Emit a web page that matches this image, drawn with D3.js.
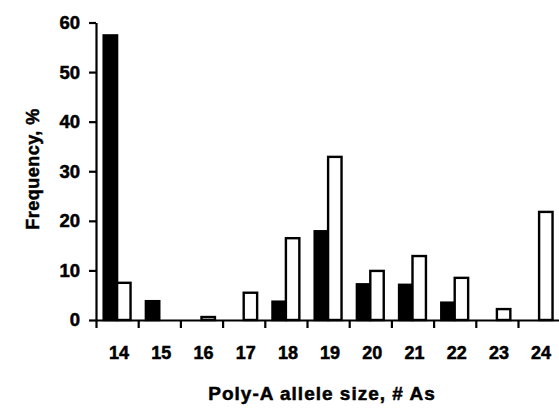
<!DOCTYPE html>
<html><head><meta charset="utf-8">
<script src="https://cdn.jsdelivr.net/npm/d3@7"></script>
<style>
html,body{margin:0;padding:0;background:#fff;}
svg text{font-family:"Liberation Sans",Arial,sans-serif;font-weight:bold;fill:#000;stroke:#000;stroke-width:0.5px;}
</style></head>
<body>
<svg id="c" width="559" height="409"></svg>
<script>
const categories = ["14","15","16","17","18","19","20","21","22","23","24"];
const seriesBlack = [57.4, 3.8, 0, 0, 3.7, 17.9, 7.2, 7.1, 3.5, 0, 0];
const seriesWhite = [7.5, 0, 0.6, 5.5, 16.5, 32.9, 9.9, 12.9, 8.5, 2.2, 21.8];
const yTicks = [0, 10, 20, 30, 40, 50, 60];
const xTitle = "Poly-A allele size, # As";
const yTitle = "Frequency, %";

(function(){
const svg = d3.select("#c");
const mLeft = 96, mRight = 560.2, mTop = 22.5, mBottom = 320;

const x0 = d3.scaleBand().domain(categories).range([mLeft, mRight]).padding(0);
const x1 = d3.scaleBand().domain(["b","w"]).range([0, x0.bandwidth()]).paddingInner(0).paddingOuter(0.57);
const y = d3.scaleLinear().domain([0, 60]).range([mBottom, mTop]);

const data = categories.map((c, i) => ({c, vals: [{k:"b", v: seriesBlack[i]}, {k:"w", v: seriesWhite[i]}]}));

const g = svg.append("g");
g.selectAll("g.grp").data(data).join("g").attr("class","grp")
  .attr("transform", d => `translate(${x0(d.c)},0)`)
  .selectAll("rect").data(d => d.vals.filter(e => e.v > 0)).join("rect")
  .attr("x", e => x1(e.k))
  .attr("width", x1.bandwidth())
  .attr("y", e => y(e.v))
  .attr("height", e => mBottom - y(e.v))
  .attr("fill", e => e.k === "b" ? "#000" : "#fff")
  .attr("stroke", "#000")
  .attr("stroke-width", 2.4);

const yAxis = svg.append("g").attr("transform", `translate(${mLeft},0)`)
  .call(d3.axisLeft(y).tickValues(yTicks).tickSize(7).tickSizeOuter(0).tickPadding(9));
yAxis.selectAll("text").style("font-size", "18.5px");

const xAxis = svg.append("g").attr("transform", `translate(0,${mBottom})`)
  .call(d3.axisBottom(x0).tickSize(0).tickPadding(26));
xAxis.select(".domain").remove();
xAxis.selectAll("text").style("font-size", "18px").attr("dx", "2");

const xb = d3.scaleLinear().domain([0, categories.length]).range([mLeft, mRight]);
svg.append("g").attr("transform", `translate(0,${mBottom})`)
  .call(d3.axisBottom(xb).ticks(categories.length).tickSize(8).tickSizeOuter(0).tickFormat(""));

svg.selectAll(".domain, .tick line").attr("stroke", "#000").attr("stroke-width", 2.2);

svg.append("text").attr("x", 322).attr("y", 400).attr("text-anchor", "middle")
  .style("font-size", "19px").style("letter-spacing", "1px").text(xTitle);
svg.append("text").attr("transform", "translate(39,169) rotate(-90)").attr("text-anchor", "middle")
  .style("font-size", "18px").style("letter-spacing", "0.5px").text(yTitle);
})();
</script>
</body></html>
